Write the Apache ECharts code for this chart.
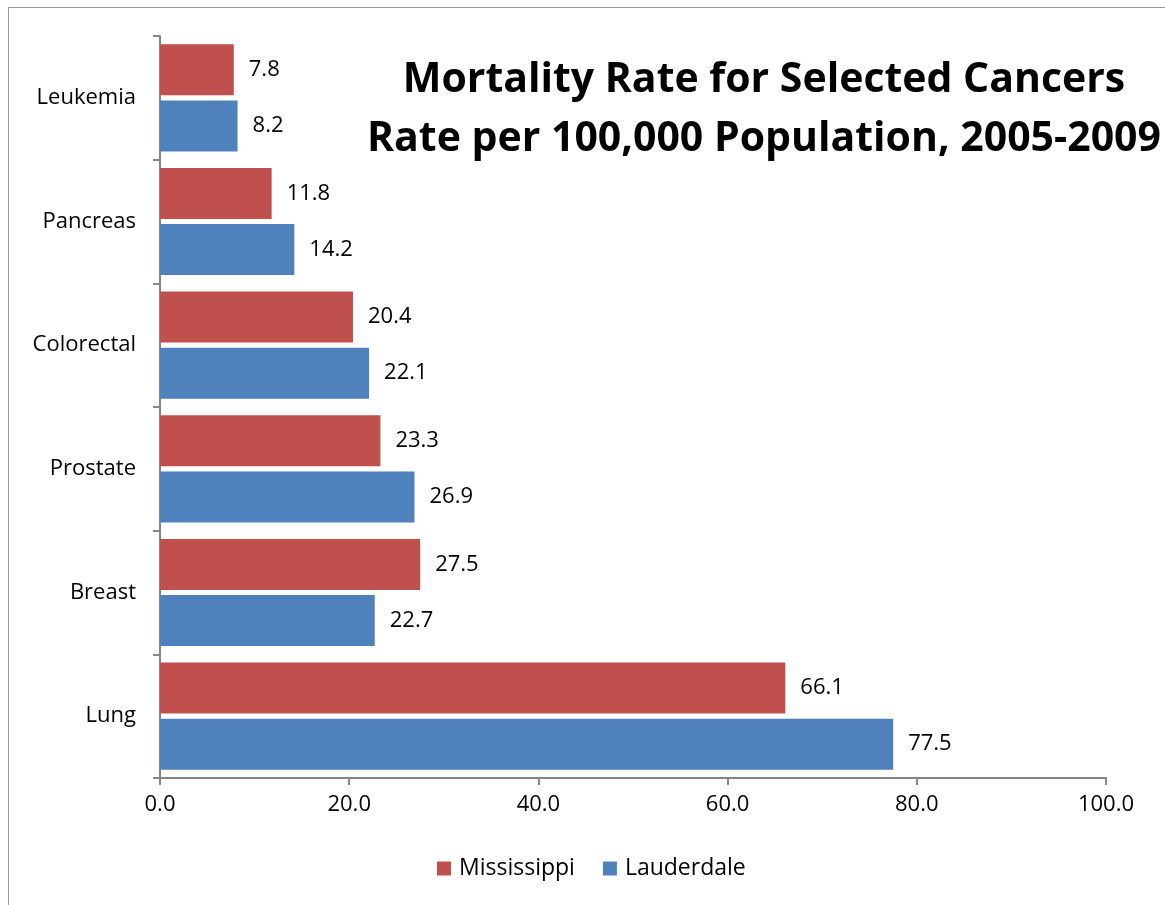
<!DOCTYPE html>
<html><head><meta charset="utf-8">
<script src="https://cdn.jsdelivr.net/npm/echarts@6/dist/echarts.min.js"></script>
<style>html,body{margin:0;padding:0;background:#fff}#c{width:1165px;height:905px}#f{position:absolute;left:8px;top:7px;width:1170px;height:900px;border:1px solid #9a9a9a;box-sizing:border-box;pointer-events:none}</style>
</head><body><div id="c"></div><div id="f"></div>
<script>
const categories = ['Lung', 'Breast', 'Prostate', 'Colorectal', 'Pancreas', 'Leukemia'];
const mississippi = [66.1, 27.5, 23.3, 20.4, 11.8, 7.8];
const lauderdale = [77.5, 22.7, 26.9, 22.1, 14.2, 8.2];
const xTicks = [0, 20, 40, 60, 80, 100];
const titleLines = ['Mortality Rate for Selected Cancers', 'Rate per 100,000 Population, 2005-2009'];

const FONT = 'Open Sans';
const chart = echarts.init(document.getElementById('c'), null, {renderer: 'canvas'});
const lbl = {show: true, position: 'right', distance: 15, color: '#000', fontFamily: FONT, fontSize: 22, formatter: p => p.value.toFixed(1)};
chart.setOption({
  animation: false,
  title: {text: titleLines.join('\n'), left: 759, top: 46, textAlign: 'center',
    textStyle: {fontFamily: FONT, fontWeight: 'bold', fontSize: 41, lineHeight: 59, color: '#000'}},
  legend: {data: ['Mississippi', 'Lauderdale'], bottom: 20, left: 432, itemWidth: 14, itemHeight: 14, itemGap: 28,
    icon: 'rect', textStyle: {fontFamily: FONT, fontSize: 23, color: '#000', padding: [0, 0, 0, 3]}},
  grid: {left: 160, right: 59, top: 36, bottom: 127, containLabel: false},
  xAxis: {type: 'value', min: xTicks[0], max: xTicks[xTicks.length - 1], interval: 20,
    axisLine: {show: true, lineStyle: {color: '#868686', width: 2}},
    axisTick: {show: true, length: 7, lineStyle: {color: '#868686', width: 2}},
    splitLine: {show: false},
    axisLabel: {margin: 16, fontFamily: FONT, fontSize: 22, color: '#000', formatter: v => v.toFixed(1)}},
  yAxis: {type: 'category', data: categories,
    axisLine: {show: true, lineStyle: {color: '#868686', width: 2}},
    axisTick: {show: true, length: 7, lineStyle: {color: '#868686', width: 2}},
    axisLabel: {margin: 24, fontFamily: FONT, fontSize: 22, color: '#000'}},
  series: [
    {name: 'Mississippi', type: 'bar', data: mississippi, barWidth: 51, barGap: '10%', itemStyle: {color: '#C0504D'}, label: lbl},
    {name: 'Lauderdale', type: 'bar', data: lauderdale, barWidth: 51, barGap: '10%', itemStyle: {color: '#4F81BD'}, label: lbl}
  ]
});
</script></body></html>
